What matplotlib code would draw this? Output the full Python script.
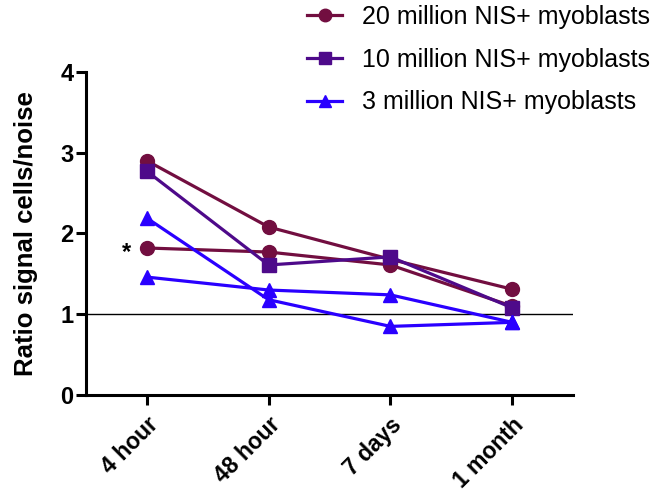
import numpy as np
import matplotlib.pyplot as plt

plt.rcParams['font.family'] = ['Liberation Sans', 'DejaVu Sans']

# Time points
timepoints = ["4 hour", "48 hour", "7 days", "1 month"]

# Ratio signal cells/noise per animal
cells20_a = [2.90, 2.08, 1.68, 1.31]
cells20_b = [1.82, 1.77, 1.61, 1.10]
cells10_a = [2.77, 1.61, 1.71, 1.08]
cells3_a = [2.19, 1.18, 0.85, 0.90]
cells3_b = [1.46, 1.30, 1.24, 0.90]

maroon = '#720E40'
purple = '#4E0A8A'
blue = '#2A00FF'

x = np.arange(len(timepoints))

fig = plt.figure(figsize=(6.64, 4.92), dpi=100)
ax = fig.add_axes([0.1295, 0.197, 0.7335, 0.657])

kw = dict(lw=2.3, ms=10, clip_on=False)
ax.plot(x, cells20_a, color=maroon, marker='o', label='20 million NIS+ myoblasts', **kw)
ax.plot(x, cells20_b, color=maroon, marker='o', **kw)
ax.plot(x, cells10_a, color=purple, marker='s', label='10 million NIS+ myoblasts', **kw)
ax.plot(x, cells3_a, color=blue, marker='^', label='3 million NIS+ myoblasts', **kw)
ax.plot(x, cells3_b, color=blue, marker='^', **kw)

# reference line at ratio 1
ax.axhline(1.0, color='black', lw=1.0, zorder=1)

ax.text(-0.17, 1.76, '*', fontsize=17, fontweight='bold', ha='center', va='center')

ax.set_xlim(-0.5, 3.5)
ax.set_ylim(0, 4)
ax.set_yticks([0, 1, 2, 3, 4])
ax.set_xticks(x)
ax.set_xticklabels(timepoints, rotation=45, ha='right', rotation_mode='anchor',
                   fontsize=16.5, fontweight='bold')
for lab in ax.get_yticklabels():
    lab.set_fontweight('bold')
    lab.set_fontsize(17)
ax.set_ylabel('Ratio signal cells/noise', fontsize=18.5, fontweight='bold', labelpad=16)

for side in ['top', 'right']:
    ax.spines[side].set_visible(False)
for side in ['left', 'bottom']:
    ax.spines[side].set_linewidth(2.2)
ax.tick_params(width=2.2, length=7, direction='out')
ax.tick_params(axis='y', pad=2)
ax.tick_params(axis='x', pad=6)

fig.legend(loc='upper left', bbox_to_anchor=(0.429, 1.036), frameon=False,
           fontsize=18, handlelength=1.4, labelspacing=0.75, handletextpad=0.8,
           markerscale=0.9)

fig.savefig('out.png', dpi=100)
